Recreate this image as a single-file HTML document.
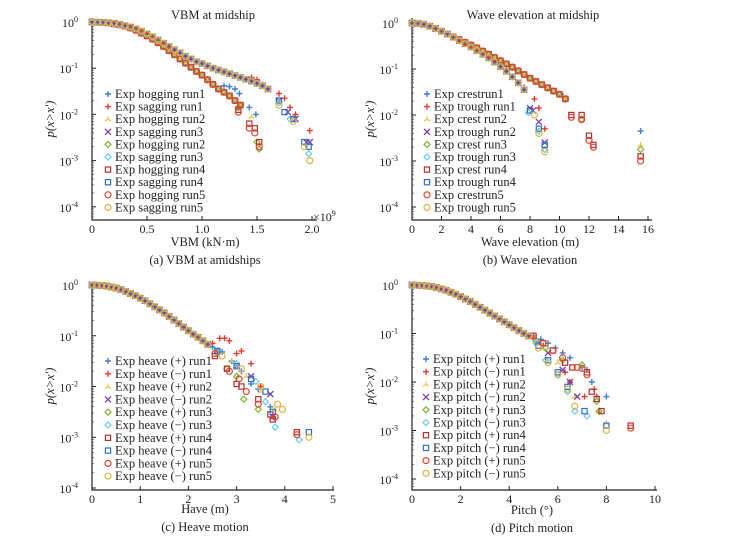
<!DOCTYPE html>
<html><head><meta charset="utf-8">
<style>
html,body{margin:0;padding:0;background:#fff;}
svg{display:block;font-family:"Liberation Serif",serif;}
</style></head>
<body>
<svg id="fig" width="740" height="543" viewBox="0 0 740 543" xmlns="http://www.w3.org/2000/svg"></svg>
<script>
// ---------- Panel (a) VBM ----------
const aNames=["Exp hogging run1","Exp sagging run1","Exp hogging run2","Exp sagging run3","Exp hogging run2","Exp sagging run3","Exp hogging run4","Exp sagging run4","Exp hogging run5","Exp sagging run5"];
const aBaseAX=[0,0.05,0.1,0.15,0.2,0.25,0.3,0.35,0.4,0.45,0.5,0.55,0.6,0.65,0.7,0.75,0.8,0.85,0.9,0.95,1.0,1.05,1.1,1.15,1.2,1.25,1.3,1.35];
const aBaseAP=[0,-0.005,-0.01,-0.02,-0.04,-0.06,-0.09,-0.13,-0.18,-0.24,-0.3,-0.37,-0.45,-0.53,-0.62,-0.71,-0.8,-0.89,-0.98,-1.07,-1.15,-1.25,-1.35,-1.45,-1.52,-1.6,-1.7,-1.8];
const aBaseBX=[0,0.05,0.1,0.15,0.2,0.25,0.3,0.35,0.4,0.45,0.5,0.55,0.6,0.65,0.7,0.75,0.8,0.85,0.9,0.95,1.0,1.05,1.1,1.15,1.2,1.25,1.3,1.35,1.4,1.45,1.5,1.55,1.6];
const aBaseBP=[0,-0.005,-0.01,-0.02,-0.03,-0.05,-0.08,-0.11,-0.15,-0.2,-0.26,-0.32,-0.39,-0.46,-0.53,-0.6,-0.67,-0.74,-0.8,-0.86,-0.9,-0.95,-1.0,-1.04,-1.08,-1.12,-1.16,-1.2,-1.24,-1.28,-1.33,-1.38,-1.45];
const aTailX=[[1.2,1.25,1.3,1.34,1.43,1.49],[1.45,1.5,1.55,1.7,1.75,1.8,1.85,1.98],[1.33,1.45,1.52],[1.7,1.78,1.85,1.95,1.98],[1.33,1.5,1.52],[1.7,1.8,1.97],[1.33,1.43,1.48,1.52],[1.7,1.75,1.83,1.93,1.97],[1.33,1.43,1.48,1.52],[1.7,1.83,1.93,1.98]];
const aTailP=[[-1.38,-1.4,-1.45,-1.55,-1.85,-2.0],[-1.2,-1.25,-1.35,-1.55,-1.65,-1.85,-2.0,-2.35],[-1.85,-2.05,-2.7],[-1.7,-1.95,-2.1,-2.6,-2.6],[-1.85,-2.6,-2.75],[-1.75,-2.1,-2.85],[-1.9,-2.2,-2.3,-2.6],[-1.7,-1.95,-2.1,-2.6,-2.7],[-1.95,-2.3,-2.4,-2.7],[-1.8,-2.15,-2.7,-3.0]];
const aXTicks=[0,0.5,1.0,1.5,2.0];
const aXTickLabels=["0","0.5","1.0","1.5","2.0"];

// ---------- Panel (b) Wave elevation ----------
const bNames=["Exp crestrun1","Exp trough run1","Exp crest run2","Exp trough run2","Exp crest run3","Exp trough run3","Exp crest run4","Exp trough run4","Exp crestrun5","Exp trough run5"];
const bBaseAX=[0,0.4,0.8,1.2,1.6,2.0,2.4,2.8,3.2,3.6,4.0,4.4,4.8,5.2,5.6,6.0,6.4,6.8,7.2,7.6,8.0,8.4,8.8,9.2,9.6,10.0,10.4];
const bBaseAP=[0,-0.01,-0.03,-0.07,-0.12,-0.18,-0.24,-0.3,-0.36,-0.42,-0.48,-0.54,-0.61,-0.68,-0.75,-0.82,-0.89,-0.96,-1.04,-1.12,-1.2,-1.27,-1.34,-1.41,-1.48,-1.55,-1.65];
const bBaseBX=[0,0.4,0.8,1.2,1.6,2.0,2.4,2.8,3.2,3.6,4.0,4.4,4.8,5.2,5.6,6.0,6.4,6.8,7.2,7.6];
const bBaseBP=[0,-0.01,-0.03,-0.07,-0.12,-0.18,-0.24,-0.31,-0.38,-0.45,-0.52,-0.6,-0.68,-0.76,-0.85,-0.95,-1.05,-1.17,-1.3,-1.45];
const bTailX=[[10.1,15.5],[7.2,7.6,8.3,8.6,9.0],[11.5,15.5],[8.0,8.2,8.6,9.0],[11.5,15.5],[7.9,8.6,9.0],[10.8,11.5,12.0,12.3,15.5],[8.0,8.6,9.0],[10.8,11.5,12.0,12.3,15.5],[8.3,8.6,9.0]];
const bTailP=[[-1.55,-2.35],[-1.3,-1.4,-1.65,-1.85,-2.3],[-2.05,-2.65],[-1.85,-1.9,-2.15,-2.6],[-2.1,-2.75],[-1.95,-2.35,-2.75],[-2.0,-2.0,-2.45,-2.65,-2.9],[-1.9,-2.3,-2.65],[-2.05,-2.1,-2.55,-2.7,-3.0],[-2.0,-2.4,-2.8]];
const bXTicks=[0,2,4,6,8,10,12,14,16];
const bXTickLabels=["0","2","4","6","8","10","12","14","16"];

// ---------- Panel (c) Heave ----------
const cNames=["Exp heave (+) run1","Exp heave (\u2212) run1","Exp heave (+) run2","Exp heave (\u2212) run2","Exp heave (+) run3","Exp heave (\u2212) run3","Exp heave (+) run4","Exp heave (\u2212) run4","Exp heave (+) run5","Exp heave (\u2212) run5"];
const cBaseX=[0,0.1,0.2,0.3,0.4,0.5,0.6,0.7,0.8,0.9,1.0,1.1,1.2,1.3,1.4,1.5,1.6,1.7,1.8,1.9,2.0,2.1,2.2,2.3,2.4];
const cBaseP=[0,-0.005,-0.01,-0.02,-0.04,-0.06,-0.09,-0.13,-0.17,-0.21,-0.26,-0.31,-0.37,-0.43,-0.49,-0.55,-0.62,-0.69,-0.76,-0.83,-0.9,-0.97,-1.03,-1.1,-1.17];
const cTailX=[[2.5,2.7,2.9,3.1,3.3,3.45,3.7],[2.5,2.65,2.75,2.85,3.0,3.1,3.3,3.5],[2.6,2.9,3.2,3.5,3.8],[2.6,3.0,3.3,3.7,3.75],[2.6,2.8,3.0,3.15,3.45],[2.6,3.0,3.4,3.6,3.8,4.3],[2.55,2.8,3.0,3.1,3.45,3.7,3.75,4.25],[2.6,3.0,3.3,3.6,3.75,4.5],[2.55,2.85,3.05,3.2,3.45,3.8,4.25],[2.7,3.1,3.5,3.85,3.95,4.5]];
const cTailP=[[-1.22,-1.32,-1.5,-1.7,-1.95,-2.05,-2.4],[-1.15,-1.05,-1.05,-1.1,-1.35,-1.3,-1.55,-2.0],[-1.3,-1.5,-1.8,-2.1,-2.45],[-1.3,-1.6,-1.8,-2.15,-2.6],[-1.35,-1.65,-1.8,-2.25,-2.45],[-1.3,-1.55,-1.9,-2.3,-2.8,-3.05],[-1.4,-1.65,-1.95,-2.0,-2.25,-2.55,-2.65,-2.9],[-1.3,-1.6,-1.85,-2.1,-2.5,-2.9],[-1.35,-1.7,-1.85,-2.1,-2.35,-2.6,-2.95],[-1.4,-1.65,-2.0,-2.35,-2.45,-3.0]];
const cXTicks=[0,1,2,3,4,5];
const cXTickLabels=["0","1","2","3","4","5"];

// ---------- Panel (d) Pitch ----------
const dNames=["Exp pitch (+) run1","Exp pitch (\u2212) run1","Exp pitch (+) run2","Exp pitch (\u2212) run2","Exp pitch (+) run3","Exp pitch (\u2212) run3","Exp pitch (+) run4","Exp pitch (\u2212) run4","Exp pitch (+) run5","Exp pitch (\u2212) run5"];
const dBaseX=[0,0.2,0.4,0.6,0.8,1.0,1.2,1.4,1.6,1.8,2.0,2.2,2.4,2.6,2.8,3.0,3.2,3.4,3.6,3.8,4.0,4.2,4.4,4.6,4.8];
const dBaseP=[0,-0.005,-0.01,-0.02,-0.03,-0.05,-0.08,-0.11,-0.15,-0.19,-0.24,-0.29,-0.34,-0.4,-0.46,-0.52,-0.58,-0.64,-0.7,-0.76,-0.82,-0.88,-0.94,-1.0,-1.05];
const dTailX=[[5.0,5.3,5.6,5.9,6.2,6.5,7.0,7.2,7.4,8.0],[5.0,5.4,6.3,6.5,7.1,7.5,7.6],[5.1,5.4,6.0,6.7,7.7,8.0],[5.2,5.6,6.2,6.5,6.8],[5.1,5.5,6.2,7.0,7.6,7.7],[5.1,5.5,6.0,6.4,6.7,7.2],[5.0,5.4,5.8,6.3,6.6,7.2,7.4,7.6,7.8,9.0],[5.2,5.6,6.0,6.4,7.1,8.0],[5.0,5.4,5.8,6.2,6.8,7.0,7.2,9.0],[5.2,5.6,6.0,6.4,6.7,8.0]];
const dTailP=[[-1.05,-1.12,-1.2,-1.3,-1.4,-1.5,-1.7,-1.75,-2.0,-2.3],[-1.1,-1.25,-1.8,-2.0,-2.3,-2.15,-2.3],[-1.15,-1.3,-1.6,-2.3,-2.6,-2.85],[-1.2,-1.4,-1.75,-2.0,-2.3],[-1.15,-1.3,-1.55,-1.65,-2.4,-2.6],[-1.2,-1.55,-1.85,-2.2,-2.6,-2.7],[-1.05,-1.2,-1.35,-1.6,-1.7,-1.8,-2.2,-2.35,-2.6,-2.9],[-1.25,-1.55,-1.8,-2.1,-2.6,-2.9],[-1.05,-1.2,-1.35,-1.5,-1.7,-1.72,-1.85,-2.95],[-1.3,-1.6,-1.85,-2.15,-2.5,-3.0]];
const dXTicks=[0,2,4,6,8,10];
const dXTickLabels=["0","2","4","6","8","10"];

const yTickExp=[0,-1,-2,-3,-4];

const markerTypes=["plus","plus","tri","x","diamond","diamond","square","square","circle","circle"];
const markerColors=["#3d7fd6","#e23b2b","#e8c544","#7c3ca6","#7db234","#6ccaf2","#b3302c","#2f72c4","#e2452f","#e0b33f"];

const svg=document.getElementById('fig');
const NS="http://www.w3.org/2000/svg";
function mk(tag,attrs,parent){const e=document.createElementNS(NS,tag);for(const k in attrs)e.setAttribute(k,attrs[k]);(parent||svg).appendChild(e);return e;}

function marker(g,type,color,x,y){
  const s=3;let e;
  if(type==="plus"){e=mk('path',{d:`M${x-s} ${y}H${x+s}M${x} ${y-s}V${y+s}`,stroke:color,'stroke-width':1.4,fill:'none'},g);}
  else if(type==="x"){e=mk('path',{d:`M${x-s} ${y-s}L${x+s} ${y+s}M${x-s} ${y+s}L${x+s} ${y-s}`,stroke:color,'stroke-width':1.3,fill:'none'},g);}
  else if(type==="tri"){e=mk('path',{d:`M${x} ${y}L${x} ${y-s}M${x} ${y}L${x-s} ${y+s*0.6}M${x} ${y}L${x+s} ${y+s*0.6}`,stroke:color,'stroke-width':1.3,fill:'none'},g);}
  else if(type==="diamond"){e=mk('path',{d:`M${x} ${y-s}L${x+s} ${y}L${x} ${y+s}L${x-s} ${y}Z`,stroke:color,'stroke-width':1.2,fill:'none'},g);}
  else if(type==="square"){e=mk('rect',{x:x-2.6,y:y-2.6,width:5.2,height:5.2,stroke:color,'stroke-width':1.2,fill:'none'},g);}
  else {e=mk('circle',{cx:x,cy:y,r:3,stroke:color,'stroke-width':1.2,fill:'none'},g);}
  
  
  return e;
}

function panel(cfg){
  const g=mk('g',{});
  
  
  const sx=v=>cfg.xL+(v-cfg.xMin)/(cfg.xMax-cfg.xMin)*(cfg.xPx-cfg.xL);
  const sy=lp=>cfg.y0-lp*cfg.dec;
  const ax=mk('path',{d:`M${cfg.xL} ${cfg.yTop}V${cfg.yBot}H${cfg.xEnd}`,stroke:'#222','stroke-width':1.2,fill:'none'},g);
  
  
  yTickExp.forEach(ex=>{
    const y=sy(ex);
    mk('line',{x1:cfg.xL,x2:cfg.xL+4,y1:y,y2:y,stroke:'#222','stroke-width':1},g);
    for(let m=2;m<=9;m++){const ym=sy(ex-1+Math.log10(m));if(ym<=cfg.yBot&&ym>=cfg.yTop)mk('line',{x1:cfg.xL,x2:cfg.xL+2,y1:ym,y2:ym,stroke:'#444','stroke-width':0.7},g);}
    const t=mk('text',{x:cfg.xL-14,y:y+5,'font-size':12,'text-anchor':'end',fill:'#222'},g);
    
    
    t.textContent='10';
    const sup=mk('tspan',{dy:-5,'font-size':8},t);sup.textContent=String(ex);
  });
  cfg.xt.forEach((v,i)=>{
    const x=sx(v);
    mk('line',{x1:x,x2:x,y1:cfg.yBot,y2:cfg.yBot-4,stroke:'#222','stroke-width':1},g);
    const t=mk('text',{x:x,y:cfg.yBot+13,'font-size':12,'text-anchor':'middle',fill:'#222'},g);
    
    
    t.textContent=cfg.xtl[i];
  });
  cfg.names.forEach((nm,i)=>{
    const sg=mk('g',{},g);
    
    
    const bx=(i%2===0)?cfg.bAX:cfg.bBX, bp=(i%2===0)?cfg.bAP:cfg.bBP;
    bx.forEach((v,k)=>marker(sg,markerTypes[i],markerColors[i],sx(v),sy(bp[k])));
    cfg.tx[i].forEach((v,k)=>marker(sg,markerTypes[i],markerColors[i],sx(v),sy(cfg.tp[i][k])));
  });
  cfg.names.forEach((nm,i)=>{
    const y=cfg.legY+i*cfg.legDy;
    const lg=mk('g',{},g);
    
    
    marker(lg,markerTypes[i],markerColors[i],cfg.legX,y);
    const t=mk('text',{x:cfg.legX+7,y:y+4,'font-size':12.5,fill:'#222'},lg);
    t.textContent=nm;
  });
  const yl=mk('text',{transform:`translate(${cfg.xL-38},${(cfg.yTop+cfg.yBot)/2}) rotate(-90)`,'font-size':12.5,'text-anchor':'middle',fill:'#222','font-style':'italic'},g);
  
  
  yl.textContent="p(x>x')";
  const xl=mk('text',{x:cfg.xtx,y:cfg.xty,'font-size':12.5,'text-anchor':'middle',fill:'#222'},g);
  
  
  xl.textContent=cfg.xtitle;
  const cp=mk('text',{x:cfg.xtx,y:cfg.xty+18,'font-size':12.5,'text-anchor':'middle',fill:'#222'},g);
  
  
  cp.textContent=cfg.caption;
  if(cfg.title){
    const tt=mk('text',{x:cfg.titleX,y:19,'font-size':12.5,'text-anchor':'middle',fill:'#222'},g);
    
    
    tt.textContent=cfg.title;
  }
  return g;
}

panel({id:'panel-vbm',xL:92,xMin:0,xMax:2,xPx:312,xEnd:317,yTop:18,yBot:220,y0:22,dec:46.2,
  names:aNames,bAX:aBaseAX,bAP:aBaseAP,bBX:aBaseBX,bBP:aBaseBP,tx:aTailX,tp:aTailP,xt:aXTicks,xtl:aXTickLabels,
  legX:108,legY:94,legDy:12.6,xtitle:'VBM (kN\u00b7m)',xtx:205,xty:246,caption:'(a) VBM at amidships',title:'VBM at midship',titleX:213});
panel({id:'panel-wave',xL:412,xMin:0,xMax:16,xPx:648,xEnd:652,yTop:18,yBot:220,y0:23,dec:46,
  names:bNames,bAX:bBaseAX,bAP:bBaseAP,bBX:bBaseBX,bBP:bBaseBP,tx:bTailX,tp:bTailP,xt:bXTicks,xtl:bXTickLabels,
  legX:427,legY:94,legDy:12.6,xtitle:'Wave elevation (m)',xtx:530,xty:246,caption:'(b) Wave elevation',title:'Wave elevation at midship',titleX:533});
panel({id:'panel-heave',xL:92,xMin:0,xMax:5,xPx:333,xEnd:334,yTop:282,yBot:490,y0:285,dec:50.75,
  names:cNames,bAX:cBaseX,bAP:cBaseP,bBX:cBaseX,bBP:cBaseP,tx:cTailX,tp:cTailP,xt:cXTicks,xtl:cXTickLabels,
  legX:108,legY:361,legDy:12.8,xtitle:'Have (m)',xtx:205,xty:513,caption:'(c) Heave motion'});
panel({id:'panel-pitch',xL:412,xMin:0,xMax:10,xPx:655,xEnd:657,yTop:282,yBot:490,y0:285,dec:48.5,
  names:dNames,bAX:dBaseX,bAP:dBaseP,bBX:dBaseX,bBP:dBaseP,tx:dTailX,tp:dTailP,xt:dXTicks,xtl:dXTickLabels,
  legX:426,legY:359,legDy:12.7,xtitle:'Pitch (\u00b0)',xtx:532,xty:514,caption:'(d) Pitch motion'});

const ex=mk('text',{x:313,y:221,'font-size':12,fill:'#222'});


ex.textContent='\u00d710';
const exs=mk('tspan',{dy:-5,'font-size':8},ex);exs.textContent='9';
</script>
</body></html>
